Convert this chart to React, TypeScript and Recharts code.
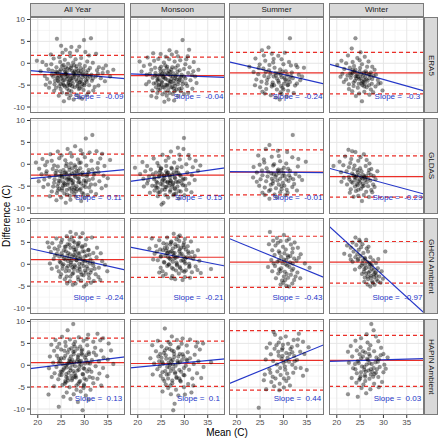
import React from 'react';
import { ScatterChart, Scatter, XAxis, YAxis, CartesianGrid, ReferenceLine, ReferenceDot } from 'recharts';

type Pt = [number, number];

const seasons = ['All Year', 'Monsoon', 'Summer', 'Winter'];
const sources = ['ERA5', 'GLDAS', 'GHCN Ambient', 'HAPIN Ambient'];
const xTicks = [20, 25, 30, 35];
const yTicks = [-10, -5, 0, 5, 10];
const xMinor = [22.5, 27.5, 32.5, 37.5];
const yMinor = [-7.5, -2.5, 2.5, 7.5];

const era5AllYear: Pt[] = [[24.1,5.6],[29.9,5.3],[31.4,5.7],[27.2,3.7],[26.0,3.1],[28.4,2.9],[25.3,2.4],[30.2,2.6],[32.5,2.2],[22.8,2.0],[34.6,-0.5],[19.8,0.6],[21.0,0.3],[21.8,-0.4],[22.3,-1.4],[20.6,-1.8],[21.5,-2.9],[22.0,-3.6],[22.9,-0.2],[23.4,1.1],[24.6,1.4],[25.8,0.8],[27.0,1.6],[28.1,0.9],[29.3,1.2],[30.6,0.4],[31.8,0.1],[33.1,-0.9],[33.9,-2.2],[32.7,-1.6],[31.2,-1.1],[30.1,-0.6],[29.0,-0.2],[27.8,-0.5],[26.5,-0.1],[25.2,-0.6],[24.0,-0.9],[23.1,-1.7],[23.8,-2.4],[24.7,-1.9],[25.6,-1.5],[26.4,-1.2],[27.4,-1.7],[28.3,-1.3],[29.2,-1.9],[30.4,-2.1],[31.5,-2.6],[32.4,-3.0],[33.5,-3.4],[34.4,-4.1],[23.3,-3.1],[24.3,-3.3],[25.1,-2.7],[26.0,-2.4],[26.9,-2.9],[27.7,-2.5],[28.7,-2.8],[29.6,-3.2],[30.7,-3.5],[31.6,-4.0],[22.6,-4.4],[23.6,-4.8],[24.5,-4.2],[25.4,-3.9],[26.3,-3.6],[27.3,-4.0],[28.2,-3.7],[29.1,-4.3],[30.0,-4.6],[31.0,-5.0],[32.2,-5.4],[23.9,-5.6],[24.9,-5.9],[25.8,-5.3],[26.8,-5.0],[27.9,-5.5],[28.8,-5.9],[29.8,-6.1],[30.9,-6.6],[25.2,-6.7],[26.2,-7.0],[27.2,-6.4],[28.4,-7.2],[24.5,-7.4],[26.7,-8.0],[25.6,-8.7],[27.7,-8.3],[28.9,-7.8],[29.5,-8.1],[23.5,-6.3],[22.4,-5.6],[35.5,-3.0],[36.2,-1.5],[21.7,-4.9],[30.5,-7.3],[31.9,-6.2],[33.0,-5.1],[27.5,-3.3],[26.6,-4.5],[25.0,-4.8],[24.2,-2.1],[28.9,-2.3],[29.8,-1.4],[27.1,-1.0],[26.1,-3.1],[25.5,-0.4],[28.6,-4.9],[30.3,-3.9],[24.8,0.3],[27.6,0.2],[31.0,1.8],[26.9,2.4],[25.0,4.0],[28.9,3.8],[23.0,-2.6],[32.9,-2.4],[26.3,-5.8],[27.0,-7.3],[29.4,-5.3],[23.7,-4.0],[35.0,-2.0],[34.0,-1.2]];
const era5AllYearCore: Pt[] = [[25.3,-3.0],[26.2,-2.1],[27.1,-3.5],[28.0,-2.7],[28.8,-3.3],[29.7,-2.6],[24.6,-2.8],[25.7,-3.8],[26.6,-4.2],[27.5,-4.6],[28.4,-4.1],[29.3,-3.9],[30.2,-3.0],[24.9,-1.4],[25.9,-1.9],[26.8,-1.5],[27.9,-1.9],[28.7,-1.7],[29.6,-2.3],[30.6,-2.7],[24.3,-4.0],[25.4,-4.6],[26.3,-5.1],[27.4,-5.3],[28.5,-5.2],[29.5,-4.7],[30.5,-4.2],[26.0,-0.9],[27.2,-0.6],[28.3,-0.7],[29.2,-1.1],[25.0,-3.5],[26.9,-3.8],[27.8,-3.1],[28.2,-2.1],[26.4,-2.9],[30.0,-5.0],[24.1,-3.3],[31.2,-3.0],[29.0,-5.7],[26.7,-6.2],[25.6,-5.0],[27.6,-2.2],[28.9,-4.4],[25.9,-2.5],[27.0,-4.9],[30.8,-1.6],[23.9,-1.9],[31.8,-3.5],[24.6,-5.2]];
const era5Monsoon: Pt[] = [[29.6,5.3],[26.8,3.0],[28.3,2.6],[24.9,2.1],[30.7,1.6],[22.1,1.3],[20.4,0.4],[21.3,-0.6],[20.8,-1.9],[21.9,-2.6],[22.6,-0.3],[23.5,0.6],[24.4,1.0],[25.6,0.2],[26.7,0.9],[27.9,0.4],[29.1,0.7],[30.2,-0.2],[31.1,-0.9],[31.9,-1.8],[32.3,-3.0],[22.9,-1.5],[23.8,-2.2],[24.7,-1.2],[25.5,-1.7],[26.3,-0.8],[27.2,-1.4],[28.1,-1.0],[29.0,-1.6],[29.9,-1.3],[30.8,-2.2],[23.2,-3.3],[24.1,-3.0],[25.0,-2.6],[25.8,-3.4],[26.6,-2.5],[27.5,-3.0],[28.4,-2.6],[29.3,-3.1],[30.2,-3.5],[31.3,-3.9],[22.4,-4.2],[23.4,-4.6],[24.3,-4.0],[25.2,-4.4],[26.0,-4.9],[26.9,-4.1],[27.8,-4.6],[28.7,-4.2],[29.6,-4.8],[30.6,-5.2],[23.9,-5.5],[24.8,-5.9],[25.7,-5.6],[26.5,-6.1],[27.4,-5.4],[28.3,-6.0],[29.2,-6.4],[24.2,-6.8],[25.3,-7.1],[26.2,-7.4],[27.5,-7.0],[28.6,-7.5],[26.6,-8.3],[25.7,-8.8],[27.8,-8.5],[23.1,-6.2],[31.7,-5.8],[32.6,-4.5],[21.8,-4.8],[22.9,-7.5],[29.9,-7.0],[30.8,-6.8],[27.0,-2.0],[25.9,-0.5],[24.5,-3.6],[28.9,-3.8],[26.3,-5.2],[27.7,-5.8],[25.1,-5.0],[23.7,-1.0],[28.6,1.6],[27.3,2.0],[24.0,-7.8],[31.6,-2.7],[32.0,0.3],[30.4,0.9],[26.0,1.5],[29.4,-5.7],[28.0,-3.4],[25.4,-3.2],[27.1,-4.3],[26.8,-6.8],[24.6,-4.9],[22.6,-2.4],[33.0,-1.5],[23.3,2.3],[31.0,3.1]];
const era5MonsoonCore: Pt[] = [[24.6,-2.6],[25.5,-3.1],[26.3,-2.2],[27.2,-3.6],[28.1,-2.9],[29.0,-3.4],[24.2,-3.7],[25.1,-4.1],[26.0,-3.6],[26.9,-4.6],[27.7,-4.0],[28.6,-4.8],[29.5,-4.1],[24.9,-1.8],[25.8,-2.5],[26.7,-1.8],[27.6,-2.3],[28.5,-1.9],[29.4,-2.6],[23.7,-2.8],[24.5,-5.0],[25.4,-5.4],[26.3,-4.9],[27.1,-5.5],[28.0,-5.2],[28.9,-5.8],[25.0,-0.8],[26.2,-1.2],[27.4,-0.9],[28.6,-0.5],[23.9,-4.5],[29.9,-3.0],[27.0,-2.8],[26.5,-3.9],[25.3,-2.4],[28.3,-3.7],[24.4,-6.0],[27.9,-6.4],[25.9,-6.6],[30.3,-4.6]];
const era5Summer: Pt[] = [[31.4,5.7],[26.8,3.6],[25.4,3.0],[27.5,2.2],[28.9,1.7],[30.3,2.4],[24.0,1.1],[26.1,0.6],[27.8,0.2],[29.6,0.9],[31.2,0.3],[32.7,-0.4],[34.4,-1.0],[22.7,-0.8],[24.9,-0.3],[25.7,-1.2],[26.9,-1.6],[28.1,-1.0],[29.3,-1.4],[30.5,-1.8],[31.8,-2.1],[33.3,-2.6],[23.6,-2.0],[24.6,-2.5],[25.9,-2.9],[27.2,-2.4],[28.4,-2.8],[29.6,-3.2],[30.8,-2.7],[32.0,-3.4],[33.6,-3.9],[24.2,-3.7],[25.3,-4.2],[26.5,-3.8],[27.7,-4.4],[28.9,-4.0],[30.1,-4.7],[31.4,-4.3],[32.5,-5.1],[25.0,-5.5],[26.3,-5.9],[27.5,-5.3],[28.6,-6.0],[29.8,-5.6],[31.0,-6.3],[26.0,-6.9],[27.3,-7.3],[28.4,-7.8],[29.6,-7.0],[30.7,-7.6],[29.2,-8.3],[23.9,-5.0],[33.0,-0.9],[31.6,-0.5],[29.0,-2.2],[30.0,-0.2],[27.0,-0.4],[25.5,-6.5],[32.2,-6.8],[26.4,-4.6],[30.4,-3.7],[28.0,-5.0],[24.7,-1.1],[34.0,-3.0],[27.9,1.0],[26.2,-2.0],[31.0,-4.9],[29.4,-6.6],[25.8,1.8],[32.9,-4.6]];
const era5SummerCore: Pt[] = [[28.6,-3.5],[29.4,-2.6],[30.2,-3.3],[29.0,-4.4],[30.6,-4.1],[27.9,-3.0],[31.2,-3.6],[29.8,-1.9],[28.3,-2.2],[30.9,-5.0],[29.5,-5.2],[27.6,-4.9],[31.6,-2.9],[26.8,-3.2],[30.0,-6.0]];
const era5Winter: Pt[] = [[24.0,5.7],[23.2,3.4],[25.1,2.5],[22.4,1.8],[24.4,1.2],[26.0,1.5],[21.0,0.6],[20.1,-0.4],[22.0,0.0],[23.4,0.3],[25.4,-0.2],[26.8,0.4],[27.6,-0.8],[21.6,-1.3],[22.8,-1.0],[24.0,-1.5],[25.0,-1.1],[26.2,-1.8],[27.3,-2.1],[28.4,-2.6],[21.2,-2.4],[22.3,-2.8],[23.4,-2.2],[24.3,-2.9],[25.2,-2.5],[26.1,-3.1],[27.0,-3.4],[27.9,-2.9],[28.8,-3.8],[22.0,-3.7],[23.0,-3.3],[23.9,-4.0],[24.8,-3.6],[25.7,-4.3],[26.6,-4.0],[27.5,-4.7],[29.4,-4.5],[22.6,-4.8],[23.6,-5.2],[24.5,-5.6],[25.5,-5.0],[26.4,-5.5],[27.3,-6.0],[28.3,-5.3],[23.3,-6.4],[24.8,-6.9],[25.9,-6.5],[27.0,-7.2],[25.4,-8.7],[29.8,-6.2],[20.8,-3.1],[23.8,-1.9],[24.6,-3.1],[25.6,-2.9],[26.4,-2.3],[24.2,-3.5],[25.9,-3.8],[23.1,-2.6],[27.2,-2.7],[22.6,-5.9],[28.1,-1.5],[26.5,-0.8],[23.7,-0.6],[24.9,0.7],[21.5,-4.3],[28.9,-4.7],[26.9,-5.0],[25.3,-4.6],[24.1,-7.5],[27.8,-6.6]];
const era5WinterCore: Pt[] = [[24.4,-2.4],[25.1,-3.4],[25.8,-2.1],[24.0,-3.0],[26.3,-3.7],[23.6,-4.4],[25.4,-4.1],[26.9,-2.6],[24.7,-4.7],[22.9,-2.3],[25.9,-5.3],[27.6,-3.6],[23.4,-1.5],[24.9,-1.9],[26.0,-4.6]];

const gldasAllYear: Pt[] = [[31.7,6.7],[30.3,5.9],[28.0,4.1],[26.4,3.5],[24.3,2.9],[29.2,3.2],[32.6,3.0],[33.8,2.4],[22.7,2.3],[21.0,1.2],[19.6,0.4],[20.3,-1.0],[21.6,-0.2],[23.0,0.8],[24.6,1.4],[25.9,0.9],[27.3,1.8],[28.6,1.1],[30.1,1.6],[31.5,0.8],[32.9,0.3],[34.3,-0.4],[35.5,1.0],[20.8,-2.3],[21.9,-1.6],[23.2,-1.1],[24.3,-0.5],[25.5,-1.3],[26.7,-0.7],[27.9,-0.2],[29.1,-0.9],[30.4,-0.3],[31.7,-1.2],[33.0,-1.8],[34.1,-2.6],[21.4,-3.5],[22.5,-2.9],[23.6,-3.4],[24.7,-2.7],[25.8,-3.1],[26.9,-2.4],[28.0,-2.9],[29.2,-2.3],[30.5,-2.8],[31.8,-3.3],[33.2,-3.9],[22.2,-4.6],[23.3,-5.1],[24.4,-4.4],[25.4,-4.9],[26.5,-4.2],[27.6,-4.7],[28.7,-4.1],[29.8,-4.9],[31.0,-5.3],[32.3,-4.6],[23.0,-6.2],[24.1,-6.6],[25.2,-6.0],[26.3,-6.9],[27.3,-6.3],[28.4,-5.7],[29.5,-6.5],[30.7,-7.0],[25.0,-7.6],[26.0,-8.8],[27.0,-8.1],[28.2,-7.4],[29.3,-8.4],[24.0,-8.2],[32.5,-6.8],[33.7,-5.5],[34.6,-4.9],[20.2,-3.9],[21.2,-5.2],[22.6,-7.3],[26.1,-1.9],[27.2,-3.6],[28.3,-1.5],[29.9,-3.7],[25.2,-2.2],[24.8,-3.8],[27.9,-5.4],[26.8,-5.6],[23.8,-2.0],[30.9,-1.9],[28.9,0.3],[26.2,0.1],[23.5,-0.3],[32.0,-2.4],[29.6,2.4],[27.0,2.6],[25.1,2.0],[31.1,2.7],[22.0,0.6],[33.4,1.3],[24.6,-5.6],[29.0,-5.9],[30.3,-4.2],[26.6,-3.4],[27.8,-6.8],[25.7,-4.4],[31.4,-6.2],[28.6,-3.2],[24.0,-1.5],[21.8,-2.1],[35.0,-3.2],[30.0,-7.6],[27.4,-0.9],[32.8,-0.9]];
const gldasAllYearCore: Pt[] = [[25.2,-3.0],[26.1,-2.3],[27.0,-3.5],[27.9,-2.6],[28.8,-3.2],[29.7,-2.5],[24.5,-3.7],[25.5,-4.1],[26.4,-4.7],[27.4,-4.3],[28.3,-5.0],[29.3,-4.4],[30.3,-3.8],[24.8,-1.6],[25.8,-1.9],[26.8,-1.3],[27.8,-1.8],[28.7,-1.5],[29.6,-1.9],[30.6,-2.4],[24.2,-5.1],[25.2,-5.5],[26.2,-5.9],[27.2,-5.4],[28.2,-6.2],[29.2,-5.6],[30.2,-5.2],[26.0,-0.4],[27.1,0.2],[28.1,-0.6],[29.2,0.4],[25.1,-2.6],[26.6,-3.1],[27.6,-3.9],[28.5,-2.2],[26.3,-3.5],[31.0,-3.6],[23.9,-2.5],[31.4,-4.6],[29.8,-6.8],[26.9,-7.2],[25.7,-6.7],[27.3,-2.1],[28.9,-4.0],[25.8,-4.8],[27.7,-5.8],[30.9,-1.3],[23.5,-4.2],[32.2,-2.0],[24.3,-6.0]];
const gldasMonsoon: Pt[] = [[29.9,6.0],[28.6,3.8],[29.8,3.5],[27.1,2.9],[30.9,2.1],[25.3,2.2],[23.4,1.3],[21.0,0.5],[19.4,-0.8],[20.5,-2.2],[22.0,-0.4],[24.2,0.3],[26.0,0.8],[27.8,0.4],[29.0,1.1],[30.4,0.0],[31.8,-0.7],[32.9,-1.5],[33.4,-0.3],[21.6,-1.6],[22.8,-1.2],[23.9,-1.9],[25.0,-1.0],[26.1,-1.6],[27.2,-0.8],[28.3,-1.3],[29.4,-0.6],[30.6,-1.9],[31.6,-2.5],[21.2,-3.3],[22.4,-2.8],[23.5,-3.4],[24.6,-2.6],[25.7,-3.2],[26.8,-2.5],[27.9,-3.0],[29.0,-2.4],[30.2,-3.3],[32.2,-3.6],[22.0,-4.4],[23.1,-4.9],[24.2,-4.2],[25.3,-4.7],[26.4,-4.0],[27.5,-4.6],[28.6,-4.1],[29.7,-4.8],[31.0,-4.4],[23.6,-6.0],[24.7,-6.4],[25.8,-5.8],[26.9,-6.3],[28.0,-5.7],[29.2,-6.2],[30.4,-5.8],[24.3,-7.3],[25.5,-8.8],[26.5,-7.6],[27.6,-7.1],[28.8,-7.8],[25.1,-9.2],[22.6,-6.5],[21.3,-5.1],[31.5,-6.4],[26.3,-2.0],[27.0,-3.7],[24.8,-1.4],[28.7,-2.0],[25.9,-5.2],[27.4,-5.1],[24.0,-5.3],[23.2,-2.3],[29.6,-3.6],[26.6,1.5],[28.9,2.2],[24.5,-0.4],[30.0,-7.1],[22.2,-3.7],[27.7,-1.9],[25.2,-3.8],[26.9,-4.3],[28.2,-6.7],[31.1,1.3],[32.4,0.8]];
const gldasMonsoonCore: Pt[] = [[24.5,-2.9],[25.4,-3.5],[26.2,-2.4],[27.1,-3.9],[28.0,-3.2],[28.9,-3.8],[24.0,-4.0],[24.9,-4.5],[25.8,-3.9],[26.7,-4.9],[27.6,-4.3],[28.5,-5.1],[29.4,-4.4],[24.7,-1.9],[25.6,-2.6],[26.5,-1.9],[27.4,-2.4],[28.3,-2.0],[29.2,-2.7],[23.6,-3.0],[24.3,-5.4],[25.2,-5.8],[26.1,-5.2],[27.0,-5.9],[27.9,-5.5],[28.8,-6.1],[25.0,-0.9],[26.1,-0.4],[27.3,-1.0],[28.5,-0.7],[23.8,-4.9],[29.8,-3.3],[26.9,-3.0],[26.4,-4.2],[25.2,-2.3],[28.2,-4.0],[24.4,-6.4],[27.8,-6.8],[25.9,-7.0],[30.2,-4.9]];
const gldasSummer: Pt[] = [[32.0,6.7],[27.0,4.4],[26.2,3.5],[28.8,3.1],[30.8,2.8],[31.9,1.6],[24.6,2.0],[25.8,1.1],[27.5,1.7],[29.3,0.7],[30.6,0.2],[33.1,-0.5],[34.8,0.6],[23.6,-0.6],[24.9,-0.1],[26.4,-0.9],[27.8,-0.3],[28.9,-1.2],[30.1,-0.8],[31.4,-1.5],[32.6,-2.2],[24.3,-1.9],[25.5,-2.5],[26.7,-1.7],[27.9,-2.3],[29.1,-2.0],[30.3,-2.7],[31.5,-3.1],[33.4,-2.8],[25.1,-3.4],[26.3,-3.9],[27.5,-3.3],[28.7,-3.7],[29.9,-4.2],[31.1,-3.8],[32.3,-4.5],[24.8,-4.9],[26.0,-5.3],[27.3,-4.7],[28.4,-5.5],[29.6,-5.0],[30.7,-5.8],[25.5,-6.5],[26.9,-6.1],[28.1,-6.9],[29.3,-6.4],[30.4,-7.1],[27.0,-7.9],[28.6,-7.6],[23.5,-3.0],[34.0,-3.6],[31.9,-5.2],[28.3,-2.9],[29.6,-1.3],[26.6,-2.8],[30.9,-6.5],[27.7,-4.4],[25.9,0.4],[33.2,1.2],[29.0,1.9],[26.0,-7.0],[31.0,-1.0],[24.3,-4.0],[32.9,-6.0],[28.0,0.0],[30.2,-4.9],[27.2,-5.8],[29.8,-2.7],[25.4,-1.4],[32.1,-3.4]];
const gldasSummerCore: Pt[] = [[28.5,-2.4],[29.3,-3.3],[30.0,-2.0],[27.8,-3.8],[30.6,-3.5],[29.0,-4.6],[27.4,-2.1],[28.8,-1.5],[31.2,-2.5],[29.6,-5.7]];
const gldasWinter: Pt[] = [[22.5,3.3],[23.3,3.0],[24.0,2.8],[25.8,2.3],[21.8,1.8],[23.1,1.2],[24.6,0.8],[26.4,1.0],[20.6,0.6],[19.3,-0.4],[21.4,-0.2],[22.6,-0.7],[23.8,-0.3],[25.0,-0.9],[26.2,-0.4],[27.4,-1.1],[28.7,-1.6],[20.9,-1.8],[22.1,-1.6],[23.3,-2.1],[24.5,-1.8],[25.6,-2.4],[26.8,-2.0],[27.9,-2.7],[21.5,-3.1],[22.7,-3.5],[23.8,-2.9],[24.9,-3.4],[26.0,-3.1],[27.2,-3.7],[28.3,-3.4],[22.2,-4.6],[23.4,-4.2],[24.5,-4.8],[25.6,-4.4],[26.7,-5.0],[27.8,-4.6],[23.0,-5.7],[24.1,-6.1],[25.2,-5.6],[26.3,-6.3],[27.4,-5.9],[24.6,-7.2],[25.8,-7.0],[25.4,-8.4],[23.6,-7.4],[26.9,-7.5],[21.0,-4.0],[24.2,-2.6],[25.3,-3.0],[24.7,-3.9],[26.1,-3.6],[23.9,-3.6],[25.9,-2.8],[24.4,-1.3],[22.9,0.3],[26.9,-1.3],[27.6,-6.4],[22.8,-6.5],[28.1,-5.2],[25.1,1.6],[23.6,-1.1],[25.5,-5.1],[27.0,0.2],[26.4,-4.1]];
const gldasWinterCore: Pt[] = [[24.1,-3.1],[24.8,-2.5],[25.5,-3.3],[23.6,-2.5],[26.3,-2.7],[23.1,-4.0],[25.0,-4.2],[26.7,-3.3],[24.3,-4.5],[22.6,-2.9],[25.8,-4.9],[27.3,-2.4],[23.9,-5.1],[25.3,-1.6],[24.6,-5.8]];

const ghcnAllYear: Pt[] = [[27.0,7.4],[28.2,6.9],[29.6,7.1],[26.2,6.4],[24.0,5.9],[25.2,5.6],[22.1,5.0],[23.1,4.8],[30.4,5.7],[31.6,6.1],[27.6,5.3],[26.4,4.6],[28.8,4.9],[24.6,4.1],[23.6,3.6],[25.6,3.2],[27.0,3.8],[28.2,3.4],[29.5,3.9],[30.8,3.2],[31.9,2.6],[22.8,2.8],[24.1,2.4],[25.3,1.9],[26.5,2.6],[27.7,2.1],[28.9,2.4],[30.1,1.8],[31.3,1.1],[32.6,1.6],[33.8,0.7],[23.4,1.2],[24.7,0.6],[25.9,1.1],[27.1,0.4],[28.3,0.9],[29.5,0.2],[30.7,0.6],[31.9,-0.3],[33.1,-0.8],[34.4,-0.1],[24.1,-0.6],[25.3,-1.0],[26.5,-0.4],[27.7,-1.1],[28.9,-0.7],[30.1,-1.4],[31.3,-1.9],[32.4,-2.3],[25.0,-2.3],[26.2,-2.8],[27.4,-2.2],[28.6,-2.9],[29.8,-2.5],[31.0,-3.2],[32.0,-3.8],[26.9,-3.9],[28.1,-4.4],[29.3,-3.7],[30.4,-4.6],[29.9,-5.1],[27.5,-4.7],[31.4,-4.2],[33.0,-2.9],[34.9,-1.6],[22.6,0.2],[23.0,-1.0],[25.8,-3.4],[24.5,-1.6],[26.0,4.0],[27.3,6.2],[29.0,6.2],[30.2,4.4],[32.7,3.8],[33.5,2.5],[25.0,5.0],[28.5,1.6],[27.9,-0.2],[26.7,1.3],[29.2,-1.8],[30.5,-0.5],[31.8,0.4],[28.0,2.8],[29.1,1.2],[26.0,-1.6],[27.0,-2.8],[28.7,-3.5],[24.3,3.3],[30.0,2.9],[32.2,-1.0],[26.8,5.6],[28.6,4.2],[23.7,2.0],[25.5,0.0],[27.4,-0.7],[29.8,0.9],[31.1,2.2],[33.4,-3.6],[22.4,3.9],[30.9,-2.4],[24.8,-2.9],[26.3,-4.4]];
const ghcnAllYearCore: Pt[] = [[25.6,1.3],[26.5,0.7],[27.4,1.8],[28.3,0.9],[29.2,1.6],[30.1,0.7],[25.1,2.5],[26.0,3.0],[26.9,2.3],[27.8,3.3],[28.7,2.6],[29.6,3.0],[30.5,2.0],[25.3,-0.3],[26.2,-0.8],[27.1,-0.1],[28.0,-0.6],[28.9,0.1],[29.8,-0.4],[30.7,-1.0],[25.8,4.0],[26.8,4.5],[27.7,3.9],[28.6,4.6],[29.5,4.1],[26.7,-1.5],[27.6,-2.0],[28.5,-1.5],[29.4,-2.4],[30.3,-1.9],[24.6,1.8],[31.2,0.2],[27.3,0.9],[28.1,1.9],[29.0,-1.1],[26.3,1.9],[30.9,3.3],[24.9,0.4],[27.9,5.0],[31.5,-1.3]];
const ghcnMonsoon: Pt[] = [[27.7,7.0],[29.0,6.6],[26.3,6.1],[23.0,5.9],[24.6,5.5],[28.3,5.7],[30.1,5.8],[31.4,5.2],[25.5,4.8],[27.0,4.5],[28.6,4.2],[29.9,4.9],[23.9,4.2],[22.5,3.6],[24.8,3.4],[26.1,3.1],[27.5,3.6],[28.9,3.0],[30.3,3.4],[31.7,2.8],[32.9,3.2],[23.6,2.4],[25.0,1.9],[26.3,2.5],[27.7,2.0],[29.1,2.3],[30.5,1.6],[31.9,1.2],[33.2,0.8],[24.3,0.9],[25.6,0.5],[27.0,1.1],[28.3,0.4],[29.7,0.9],[31.0,0.1],[32.4,-0.5],[24.9,-0.8],[26.3,-0.4],[27.6,-1.1],[29.0,-0.6],[30.3,-1.4],[31.6,-1.8],[35.7,-1.1],[26.0,-2.2],[27.4,-2.7],[28.8,-2.1],[30.1,-2.9],[29.6,-3.6],[27.2,-3.2],[31.2,-3.1],[25.3,-1.6],[33.5,-2.0],[26.7,0.0],[28.1,1.5],[29.5,-1.5],[25.8,3.8],[27.2,5.2],[30.7,4.1],[24.1,2.9],[28.4,-0.3],[30.0,0.6],[26.9,2.8],[29.3,3.8],[32.2,1.9],[23.3,1.1],[25.4,-2.7],[28.0,-3.4],[31.0,-0.7],[27.9,2.6],[26.5,1.6],[32.8,-1.3],[24.6,-1.9],[29.8,1.8],[28.7,6.3],[30.9,2.5]];
const ghcnMonsoonCore: Pt[] = [[25.9,2.0],[26.8,1.4],[27.6,2.6],[28.5,1.7],[29.4,2.4],[30.2,1.3],[25.4,3.2],[26.3,3.7],[27.2,3.0],[28.1,4.0],[29.0,3.4],[29.9,3.9],[30.8,2.9],[25.7,0.4],[26.6,-0.1],[27.5,0.6],[28.4,0.0],[29.3,0.8],[30.2,0.2],[31.1,-0.4],[26.2,4.6],[27.1,5.0],[28.0,4.6],[28.9,5.3],[29.8,4.4],[27.3,-0.8],[28.2,-1.4],[29.1,-0.9],[30.0,-1.7],[24.9,1.7],[31.3,1.6],[27.8,1.3],[26.5,2.7]];
const ghcnSummer: Pt[] = [[27.1,7.4],[30.1,6.7],[28.6,6.0],[27.8,5.4],[29.4,5.3],[31.2,5.8],[32.4,5.0],[26.9,4.6],[28.3,4.3],[29.9,4.0],[31.6,4.5],[33.1,3.8],[27.6,3.2],[29.0,3.0],[30.5,3.4],[31.9,2.7],[33.7,2.3],[28.1,2.1],[29.5,1.7],[30.9,2.0],[32.3,1.3],[27.4,1.0],[28.7,0.6],[30.1,1.1],[31.4,0.4],[32.8,0.8],[34.6,0.2],[28.2,-0.4],[29.5,-0.9],[30.8,-0.3],[32.1,-1.0],[27.6,-1.6],[28.9,-2.1],[30.3,-1.7],[31.6,-2.4],[33.0,-1.9],[28.4,-3.2],[29.7,-3.7],[31.0,-3.1],[32.3,-3.6],[29.4,-4.6],[30.6,-4.9],[31.2,-5.1],[31.9,-4.4],[30.0,-4.2],[26.7,-0.6],[35.6,-0.8],[33.6,-3.2],[29.2,2.6],[30.5,0.0],[31.8,-1.4],[28.8,4.9],[32.0,3.6],[30.1,-2.8],[29.1,-1.2],[31.0,1.6],[27.9,0.2],[33.3,1.5],[30.7,5.4],[32.6,-2.8]];
const ghcnSummerCore: Pt[] = [[29.8,0.3],[30.6,1.0],[31.3,-0.6],[29.4,-1.6],[30.7,-2.2],[31.5,1.9],[30.2,2.5],[29.1,0.9],[32.0,0.2],[30.4,-3.6]];
const ghcnWinter: Pt[] = [[24.0,6.1],[24.8,5.6],[26.3,5.6],[23.4,5.0],[22.2,4.3],[23.0,3.8],[24.2,4.4],[25.5,4.6],[26.8,4.0],[23.6,2.9],[24.7,3.3],[25.7,2.6],[26.7,2.9],[21.6,2.4],[22.8,2.0],[24.0,1.6],[25.1,1.9],[26.1,1.2],[27.2,1.6],[30.4,2.9],[23.4,0.6],[24.5,0.9],[25.5,0.2],[26.5,0.5],[27.5,-0.2],[28.4,0.3],[24.9,-0.7],[25.9,-1.1],[26.9,-0.6],[27.9,-1.3],[28.8,-0.9],[26.3,-2.1],[27.3,-2.6],[28.2,-2.0],[29.1,-2.8],[26.7,-3.4],[27.6,-3.9],[28.5,-3.5],[29.4,-4.2],[27.2,-5.1],[28.1,-4.7],[26.0,-3.0],[25.4,-2.2],[27.8,0.9],[28.9,1.2],[29.6,-1.6],[23.9,-1.2],[26.4,3.6],[25.0,5.2],[27.1,-1.6],[28.4,-1.8],[26.1,-0.2],[24.4,2.3],[25.9,-4.0],[28.0,-2.9],[27.0,0.3],[23.0,1.1],[29.9,-3.3],[26.6,-4.6],[25.2,3.9]];
const ghcnWinterCore: Pt[] = [[26.8,-1.9],[27.5,-1.0],[26.2,-0.9],[27.9,-2.3],[25.6,0.9],[26.6,-2.8],[27.3,-3.1],[28.5,-2.6],[25.3,-0.3],[26.0,1.5],[24.6,1.2],[27.7,-4.3],[28.8,-3.9],[25.8,-1.7],[27.2,0.0]];

const hapinAllYear: Pt[] = [[27.6,9.4],[26.4,8.0],[30.8,7.0],[32.8,7.2],[25.2,6.5],[28.8,6.4],[34.0,6.2],[23.8,5.8],[26.9,5.9],[29.8,5.6],[31.9,5.4],[35.2,5.0],[22.9,4.7],[24.6,4.9],[26.0,4.4],[27.7,4.8],[29.1,4.3],[30.6,4.6],[32.3,4.0],[33.6,3.4],[35.7,3.4],[23.5,3.3],[25.0,3.6],[26.4,2.9],[27.9,3.2],[29.4,2.7],[30.9,3.0],[32.5,2.3],[34.1,1.8],[22.6,2.0],[24.1,2.2],[25.6,1.6],[27.1,2.0],[28.6,1.4],[30.1,1.8],[31.6,1.2],[33.1,0.9],[35.0,1.3],[23.3,0.6],[24.8,0.9],[26.3,0.3],[27.8,0.7],[29.3,0.1],[30.8,0.5],[32.4,-0.2],[34.0,-0.6],[22.4,-0.7],[24.0,-0.4],[25.5,-1.0],[27.0,-0.6],[28.5,-1.2],[30.0,-0.8],[31.5,-1.5],[33.2,-1.9],[23.6,-1.8],[25.1,-2.2],[26.6,-1.7],[28.1,-2.4],[29.6,-2.0],[31.1,-2.7],[32.8,-3.1],[24.4,-3.2],[25.9,-3.6],[27.4,-3.0],[28.9,-3.8],[30.4,-3.3],[31.9,-4.1],[25.3,-4.5],[26.8,-5.0],[28.3,-4.6],[29.8,-5.2],[31.3,-5.6],[26.2,-6.2],[27.7,-6.6],[29.2,-6.0],[30.3,-6.9],[22.3,-6.7],[24.5,-9.5],[29.6,-10.3],[28.6,-8.4],[27.0,-7.7],[30.9,-7.9],[25.5,-7.2],[23.5,-4.8],[33.6,-4.6],[34.9,-2.5],[26.0,-0.1],[27.4,1.2],[28.9,-0.3],[30.4,2.3],[26.1,-2.7],[27.6,-1.3],[29.0,0.9],[24.5,1.5],[25.8,-4.2],[28.0,5.4],[31.0,-0.9],[32.0,2.9],[29.9,-4.4],[27.2,3.9],[24.9,-1.4],[26.8,1.0],[28.3,-5.6],[33.4,5.7],[23.0,-2.7],[36.2,0.3],[30.5,6.0],[27.9,-2.7],[25.9,5.3],[29.5,3.6],[31.8,-2.9],[26.5,-3.5],[28.7,2.3],[24.2,4.1]];
const hapinAllYearCore: Pt[] = [[25.3,0.3],[26.2,-0.5],[27.1,0.8],[28.0,-0.2],[28.9,0.6],[29.8,-0.7],[25.0,1.6],[25.9,2.2],[26.8,1.4],[27.7,2.5],[28.6,1.9],[29.5,2.4],[30.4,1.2],[25.2,-1.5],[26.1,-2.0],[27.0,-1.2],[27.9,-1.8],[28.8,-1.0],[29.7,-2.1],[30.6,-1.4],[25.7,3.3],[26.7,3.6],[27.6,3.1],[28.5,3.8],[29.4,3.3],[26.4,-2.9],[27.3,-3.4],[28.2,-2.8],[29.1,-3.6],[30.0,-3.0],[24.5,0.6],[31.2,0.4],[27.4,0.1],[28.4,0.9],[26.6,0.5],[29.3,1.0],[25.6,-0.7],[30.1,0.4],[27.2,-2.4],[28.7,-4.2],[26.0,-3.9],[31.0,2.6],[24.7,-2.2],[27.9,4.3],[29.9,-4.7]];
const hapinMonsoon: Pt[] = [[25.8,8.4],[27.3,6.6],[29.6,6.1],[31.2,5.9],[24.3,5.6],[26.6,5.3],[28.4,5.8],[32.8,5.2],[34.0,5.0],[23.1,4.6],[25.1,4.3],[27.0,4.8],[28.8,4.2],[30.5,4.5],[33.3,3.6],[23.9,3.2],[25.6,2.8],[27.3,3.4],[29.0,2.6],[30.7,3.0],[32.2,2.4],[22.7,1.6],[24.4,2.0],[26.1,1.5],[27.8,1.9],[29.5,1.2],[31.2,1.6],[33.0,0.9],[35.7,0.7],[23.5,0.4],[25.2,0.8],[26.9,0.2],[28.6,0.6],[30.3,-0.1],[32.0,0.3],[34.1,-0.4],[24.2,-0.9],[25.9,-1.3],[27.6,-0.8],[29.3,-1.5],[31.0,-1.0],[32.7,-1.8],[24.9,-2.4],[26.6,-2.0],[28.3,-2.7],[30.0,-2.3],[31.7,-3.0],[25.7,-3.6],[27.4,-4.1],[29.1,-3.5],[30.8,-4.3],[26.5,-5.2],[28.2,-5.6],[29.9,-5.0],[27.1,-6.6],[28.7,-6.9],[27.9,-8.8],[27.6,-10.3],[25.3,-6.0],[31.5,-6.2],[23.2,-2.1],[33.6,-2.9],[26.2,3.9],[28.0,-1.6],[26.8,-0.5],[29.8,2.0],[25.4,-3.1],[30.6,1.1],[27.5,1.2],[28.9,-3.0],[24.6,0.9],[32.5,4.3],[30.1,-6.7],[26.0,-4.4],[29.4,4.9],[31.9,-4.6]];
const hapinMonsoonCore: Pt[] = [[25.4,0.4],[26.3,-0.4],[27.2,0.9],[28.1,-0.1],[29.0,0.7],[29.9,-0.6],[25.1,1.7],[26.0,2.3],[26.9,1.5],[27.8,2.6],[28.7,2.0],[29.6,2.5],[24.7,-0.2],[25.3,-1.6],[26.2,-2.1],[27.1,-1.3],[28.0,-1.9],[28.9,-1.1],[29.8,-2.2],[25.8,3.4],[26.8,3.7],[27.7,3.2],[28.6,3.9],[26.5,-3.0],[27.4,-3.5],[28.3,-2.9],[29.2,-3.7],[27.5,0.2],[28.5,1.0],[26.6,0.6],[30.4,1.3],[24.8,2.6],[27.0,-4.6]];
const hapinSummer: Pt[] = [[27.9,7.6],[28.2,7.0],[33.3,7.2],[30.5,6.6],[29.4,6.2],[32.2,5.8],[34.2,5.4],[27.1,5.0],[29.0,5.2],[31.0,4.9],[33.0,4.5],[35.4,4.1],[26.4,4.0],[28.1,3.8],[29.7,3.5],[31.5,3.7],[33.6,3.1],[27.3,2.5],[29.0,2.2],[30.6,2.8],[32.3,2.1],[34.5,2.6],[26.2,1.3],[27.8,1.0],[29.6,1.5],[31.2,0.8],[32.9,1.2],[28.6,0.2],[30.3,-0.3],[31.9,0.1],[33.7,-0.6],[27.0,-0.9],[28.7,-1.4],[30.4,-1.0],[32.1,-1.7],[26.0,-2.1],[27.7,-2.6],[29.4,-2.2],[31.1,-2.9],[34.2,-2.4],[25.8,-3.4],[27.4,-3.8],[29.2,-4.2],[30.6,-3.6],[28.0,-4.8],[29.1,-5.7],[30.1,-5.1],[26.3,-5.5],[24.7,-9.7],[35.0,-1.1],[30.0,0.6],[29.8,3.9],[28.5,4.6],[31.8,4.2],[30.9,1.7],[32.6,-0.6],[28.3,-3.0],[31.4,-4.6],[27.2,-1.7],[33.1,5.9]];
const hapinSummerCore: Pt[] = [[29.8,2.1],[30.5,1.0],[31.3,2.6],[29.3,-0.6],[30.8,-1.9],[31.9,3.0],[30.1,-3.0],[28.9,3.1],[32.4,0.9],[29.9,4.7]];
const hapinWinter: Pt[] = [[27.4,9.4],[27.9,8.0],[26.4,7.1],[28.4,6.6],[25.2,6.2],[24.0,5.6],[26.6,5.2],[28.9,5.5],[23.0,4.4],[25.1,4.1],[27.2,4.6],[29.5,4.0],[22.4,3.1],[24.3,3.4],[26.1,2.9],[28.0,3.2],[30.0,2.6],[23.3,2.0],[25.2,1.6],[27.1,2.1],[29.0,1.4],[30.9,1.8],[22.6,0.6],[24.5,0.9],[26.4,0.2],[28.3,0.7],[30.2,0.1],[23.5,-0.7],[25.4,-0.3],[27.3,-0.9],[29.2,-0.4],[24.3,-1.8],[26.2,-1.4],[28.1,-2.0],[30.0,-1.6],[23.2,-2.9],[25.1,-2.5],[27.0,-3.1],[28.9,-2.7],[24.2,-4.0],[26.1,-3.6],[28.0,-4.2],[29.7,-3.8],[25.3,-5.2],[27.2,-5.5],[22.4,-6.6],[24.5,-7.2],[26.3,-6.4],[25.9,-1.0],[27.6,-1.5],[26.7,1.2],[28.6,-0.9],[24.9,2.5],[26.9,3.7],[27.8,-2.6],[25.7,-4.4],[29.4,2.3],[23.9,0.3],[26.0,-2.2],[28.5,1.8],[24.8,-3.3],[30.5,-0.8],[27.0,0.5],[25.6,3.2],[29.0,-5.0]];
const hapinWinterCore: Pt[] = [[25.9,-0.4],[26.8,-1.2],[27.5,0.3],[25.2,-1.6],[26.5,1.5],[27.9,-0.6],[24.7,0.5],[28.4,-1.7],[26.1,-2.6],[27.3,-2.1],[25.6,2.0],[28.8,0.8],[24.0,-0.9],[26.9,2.6],[25.0,-3.0]];

const pointGrid: Pt[][][] = [
  [era5AllYear.concat(era5AllYearCore), era5Monsoon.concat(era5MonsoonCore), era5Summer.concat(era5SummerCore), era5Winter.concat(era5WinterCore)],
  [gldasAllYear.concat(gldasAllYearCore), gldasMonsoon.concat(gldasMonsoonCore), gldasSummer.concat(gldasSummerCore), gldasWinter.concat(gldasWinterCore)],
  [ghcnAllYear.concat(ghcnAllYearCore), ghcnMonsoon.concat(ghcnMonsoonCore), ghcnSummer.concat(ghcnSummerCore), ghcnWinter.concat(ghcnWinterCore)],
  [hapinAllYear.concat(hapinAllYearCore), hapinMonsoon.concat(hapinMonsoonCore), hapinSummer.concat(hapinSummerCore), hapinWinter.concat(hapinWinterCore)],
];

const meanDiff = [[-2.6, -2.8, -2.2, -2.2], [-2.5, -2.5, -1.8, -2.8], [1.05, 1.6, 0.5, 0.5], [0.6, 0.4, 1.1, 1.1]];
const upperLoA = [[1.8, 1.4, 2.5, 2.5], [2.3, 1.9, 3.3, 1.9], [6.2, 6.2, 6.4, 5.2], [6.2, 5.5, 7.9, 6.85]];
const lowerLoA = [[-6.8, -6.5, -7.0, -7.0], [-7.2, -7.1, -7.0, -7.5], [-4.0, -3.0, -5.3, -4.3], [-4.95, -4.8, -5.7, -4.8]];
const slopes = [[-0.09, -0.04, -0.24, -0.3], [0.11, 0.15, -0.01, -0.29], [-0.24, -0.21, -0.43, -0.97], [0.13, 0.1, 0.44, 0.03]];
const fitLeft = [[-1.7, -2.4, 0.3, -0.2], [-3.3, -3.9, -1.7, -0.9], [3.6, 3.9, 5.9, 8.7], [-0.75, -0.6, -4.2, 0.9]];
const fitRight = [[-3.5, -3.2, -4.7, -6.3], [-1.2, -0.8, -1.9, -6.8], [-1.3, -0.4, -3.0, -11.1], [1.9, 1.45, 4.7, 1.5]];

const X_DOMAIN: [number, number] = [18.33, 38.7];
const Y_DOMAIN: [number, number] = [-11.36, 10.57];
const LABEL_X = 33;
const LABEL_Y = -7.6;

const colLeft = [30, 130, 229, 329];
const rowTop = [17, 118, 218, 319];
const PW = 95;
const PH = 96;
const YAW = 30;
const XAH = 18;
const PAD = 6;

const FONT = '"Liberation Sans", Arial, Helvetica, sans-serif';
const RED = '#EA2F28';
const BLUE = '#2436C8';
const BORDER = '#7a7a7a';

const Dot = (p: any) => (
  <circle cx={p.cx} cy={p.cy} r={2} fill="#000" fillOpacity={0.42} stroke="#000" strokeOpacity={0.2} strokeWidth={0.4} />
);

function Panel({ r, c }: { r: number; c: number }) {
  const showY = c === 0;
  const showX = r === 3;
  const width = PW + (showY ? YAW : 0);
  const height = PH + PAD + (showX ? XAH : PAD);
  const data = pointGrid[r][c].map(([x, y]) => ({ x, y }));
  const label = 'Slope =  ' + String(slopes[r][c]);
  return (
    <div style={{ position: 'absolute', left: colLeft[c] - (showY ? YAW : 0), top: rowTop[r] - PAD, width, height }}>
      <ScatterChart width={width} height={height} margin={{ top: PAD, right: 0, bottom: showX ? 0 : PAD, left: 0 }}>
        <CartesianGrid horizontalValues={yMinor} verticalValues={xMinor} stroke="#f0f0f0" strokeWidth={0.6} />
        <CartesianGrid horizontalValues={yTicks} verticalValues={xTicks} stroke="#e6e6e6" strokeWidth={1} />
        <XAxis
          dataKey="x"
          type="number"
          domain={X_DOMAIN}
          allowDataOverflow
          ticks={xTicks}
          interval={0}
          hide={!showX}
          height={XAH}
          axisLine={false}
          tickSize={3}
          tickMargin={1}
          tickLine={{ stroke: '#333' }}
          tick={{ fontSize: 8, fill: '#4d4d4d', fontFamily: FONT }}
        />
        <YAxis
          dataKey="y"
          type="number"
          domain={Y_DOMAIN}
          allowDataOverflow
          ticks={yTicks}
          interval={0}
          hide={!showY}
          width={YAW}
          axisLine={false}
          tickSize={3}
          tickMargin={2}
          tickLine={{ stroke: '#333' }}
          tick={{ fontSize: 8, fill: '#4d4d4d', fontFamily: FONT }}
        />
        <Scatter data={data} isAnimationActive={false} shape={Dot} />
        <ReferenceLine y={upperLoA[r][c]} stroke={RED} strokeWidth={1.2} strokeDasharray="4 3" />
        <ReferenceLine y={lowerLoA[r][c]} stroke={RED} strokeWidth={1.2} strokeDasharray="4 3" />
        <ReferenceLine y={meanDiff[r][c]} stroke={RED} strokeWidth={1.2} />
        <ReferenceLine
          segment={[{ x: X_DOMAIN[0], y: fitLeft[r][c] }, { x: X_DOMAIN[1], y: fitRight[r][c] }]}
          stroke={BLUE}
          strokeWidth={1.2}
          ifOverflow="visible"
        />
        <ReferenceDot
          x={LABEL_X}
          y={LABEL_Y}
          r={0}
          shape={(p: any) => (
            <text x={p.cx} y={p.cy} textAnchor="middle" dominantBaseline="central" fontSize={8} fill={BLUE} fontFamily={FONT} style={{ whiteSpace: 'pre' }}>
              {label}
            </text>
          )}
        />
      </ScatterChart>
      <div
        style={{
          position: 'absolute',
          left: showY ? YAW : 0,
          top: PAD,
          width: PW,
          height: PH,
          border: `1px solid ${BORDER}`,
          boxSizing: 'border-box',
          pointerEvents: 'none',
        }}
      />
    </div>
  );
}

export default function App() {
  return (
    <div style={{ position: 'absolute', left: 0, top: 0, width: 440, height: 440, background: '#fff', fontFamily: FONT, overflow: 'hidden' }}>
      {pointGrid.map((row, r) => row.map((_, c) => <Panel key={`${r}-${c}`} r={r} c={c} />))}
      {seasons.map((s, c) => (
        <div
          key={s}
          style={{
            position: 'absolute',
            left: colLeft[c],
            top: 3,
            width: PW,
            height: 14,
            background: '#d9d9d9',
            border: `1px solid ${BORDER}`,
            boxSizing: 'border-box',
            fontSize: 8,
            color: '#1a1a1a',
            textAlign: 'center',
            lineHeight: '12px',
          }}
        >
          {s}
        </div>
      ))}
      {sources.map((s, r) => (
        <div
          key={s}
          style={{
            position: 'absolute',
            left: 424,
            top: rowTop[r],
            width: 14,
            height: PH,
            background: '#d9d9d9',
            border: `1px solid ${BORDER}`,
            boxSizing: 'border-box',
            fontSize: 8,
            color: '#1a1a1a',
            display: 'flex',
            alignItems: 'center',
            justifyContent: 'center',
          }}
        >
          <span style={{ writingMode: 'vertical-rl', whiteSpace: 'nowrap' }}>{s}</span>
        </div>
      ))}
      <div
        style={{
          position: 'absolute',
          left: 7 - 50,
          top: 216 - 6,
          width: 100,
          height: 12,
          lineHeight: '12px',
          fontSize: 10,
          textAlign: 'center',
          color: '#000',
          transform: 'rotate(-90deg)',
          whiteSpace: 'nowrap',
        }}
      >
        Difference (C)
      </div>
      <div
        style={{
          position: 'absolute',
          left: 30,
          top: 427,
          width: 394,
          height: 12,
          lineHeight: '12px',
          fontSize: 10,
          textAlign: 'center',
          color: '#000',
        }}
      >
        Mean (C)
      </div>
    </div>
  );
}
